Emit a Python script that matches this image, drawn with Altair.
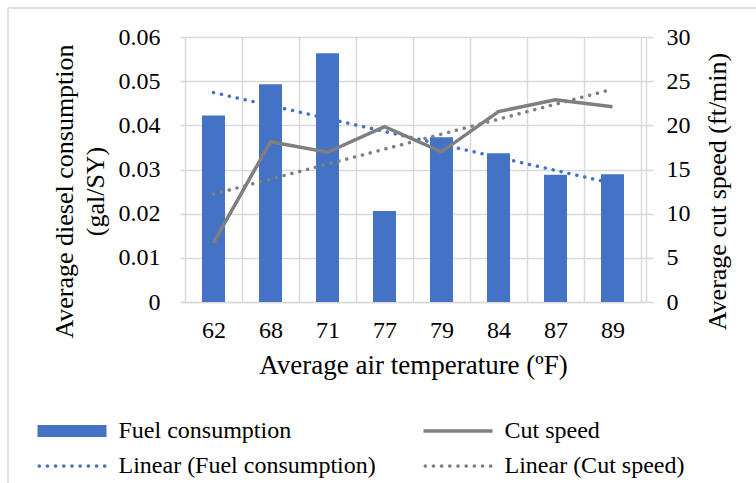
import altair as alt
import pandas as pd

# Chart values
temps = ["62", "68", "71", "77", "79", "84", "87", "89"]
fuel = [0.0422, 0.0493, 0.0563, 0.0206, 0.0373, 0.0337, 0.0288, 0.0289]
speed = [6.7, 18.15, 16.95, 19.85, 17.0, 21.55, 22.9, 22.1]
fuel_ticks = [0, 0.01, 0.02, 0.03, 0.04, 0.05, 0.06]
speed_ticks = [0, 5, 10, 15, 20, 25, 30]
# legend entries, listed column by column
series = ["Fuel consumption", "Linear (Fuel consumption)",
          "Cut speed", "Linear (Cut speed)"]

BLUE = "#4472C4"
GRAY = "#7F7F7F"
GRID = "#D9D9D9"
FONT = "Liberation Serif"
FS = 24
TITLE_FS = 26

n = len(temps)
df = pd.DataFrame({"idx": list(range(1, n + 1)), "temp": temps,
                   "fuel": fuel, "speed": speed})
positions = list(range(1, n + 1))
boundaries = [i + 0.5 for i in range(n + 1)]

xscale = alt.Scale(domain=[0.5, n + 0.5], nice=False, zero=False)
label_lookup = "[" + ",".join("'%s'" % t for t in temps) + "][datum.value - 1]"

# bottom axis: category labels
x_cat = alt.X("idx:Q", scale=xscale, axis=alt.Axis(
    values=positions, labelExpr=label_lookup, grid=False, ticks=False,
    domain=True, domainColor=GRID, domainWidth=1.5, labelPadding=16,
    title="Average air temperature (ºF)", titleFontSize=27, titlePadding=10))
# vertical gridlines between the categories
x_grid = alt.X("idx:Q", scale=xscale, axis=alt.Axis(
    orient="top", values=boundaries, grid=True, gridColor=GRID, gridWidth=1.5,
    labels=False, ticks=False, domain=False, title=None))

y_fuel = alt.Y("fuel:Q", scale=alt.Scale(domain=[0, 0.06], nice=False),
               axis=alt.Axis(values=fuel_ticks,
                             labelExpr="datum.value == 0 ? '0' : format(datum.value, '.2f')",
                             grid=True, gridColor=GRID, gridWidth=1.5,
                             ticks=False, domain=False, labelPadding=20,
                             title=["Average diesel consumption", "(gal/SY)"],
                             titleFontSize=TITLE_FS, titleLineHeight=31,
                             titleY=154, titlePadding=10))
y_speed = alt.Y("speed:Q", scale=alt.Scale(domain=[0, 30], nice=False),
                axis=alt.Axis(orient="right", values=speed_ticks, grid=False,
                              ticks=True, tickSize=7, tickColor=GRID, tickWidth=1.5,
                              domain=True, domainColor=GRID, domainWidth=1.5,
                              labelPadding=13,
                              title="Average cut speed (ft/min)", titleFontSize=TITLE_FS,
                              titleAngle=270, titleY=154, titlePadding=40))

base = alt.Chart(df)

bars = base.mark_bar(color=BLUE, size=23).encode(x=x_cat, y=y_fuel)
fuel_trend = base.transform_regression("idx", "fuel").mark_line(
    color=BLUE, strokeWidth=3.5, strokeDash=[0.1, 8], strokeCap="round"
).encode(x=x_cat, y=y_fuel)

speed_line = base.mark_line(color=GRAY, strokeWidth=3.5).encode(x=x_grid, y=y_speed)
speed_trend = base.transform_regression("idx", "speed").mark_line(
    color=GRAY, strokeWidth=3.5, strokeDash=[0.1, 8], strokeCap="round"
).encode(x=x_grid, y=y_speed)

left = alt.layer(bars, fuel_trend)
right = alt.layer(speed_line, speed_trend)

# legend swatches: wide bar, solid line, dotted lines
R = 10.0
HALF = 3.45


def rect_path(h_px):
    h = h_px / 2 / R
    return "M%.3f,%.3fH%.3fV%.3fH%.3fZ" % (-HALF, -h, HALF, h, -HALF)


def dots_path(count, rad_px):
    r = rad_px / R
    step = (2 * (HALF - r)) / (count - 1)
    parts = []
    for k in range(count):
        cx = -HALF + r + k * step
        parts.append("M%.3f,0a%.3f,%.3f 0 1,0 %.3f,0a%.3f,%.3f 0 1,0 %.3f,0Z"
                     % (cx - r, r, r, 2 * r, r, r, -2 * r))
    return "".join(parts)


shapes = [rect_path(12), dots_path(9, 1.8), rect_path(3.5), dots_path(9, 1.8)]
legend = alt.Legend(title=None, orient="none", legendX=-120, legendY=382,
                    columns=2, symbolSize=R * R * 4, symbolStrokeWidth=0,
                    symbolOpacity=1,
                    labelFont=FONT, labelFontSize=FS, labelColor="black",
                    labelOffset=34.5, labelLimit=0, columnPadding=47,
                    rowPadding=11, padding=0)
# legend key layer; its own points sit off the canvas
key = alt.Chart(pd.DataFrame({"series": series})).mark_point(
    filled=True
).encode(
    x=alt.value(-3000), y=alt.value(-3000),
    color=alt.Color("series:N", scale=alt.Scale(domain=series, range=[BLUE, BLUE, GRAY, GRAY]),
                    legend=legend),
    shape=alt.Shape("series:N", scale=alt.Scale(domain=series, range=shapes),
                    legend=legend),
)

# chart-area frame (top and left edges)
frame_df = pd.DataFrame({"k": [0]})
frame_top = alt.Chart(frame_df).mark_rule(color=GRID, strokeWidth=1.5).encode(
    x=alt.value(-172), x2=alt.value(600), y=alt.value(-29))
frame_left = alt.Chart(frame_df).mark_rule(color=GRID, strokeWidth=1.5).encode(
    x=alt.value(-172), y=alt.value(-29), y2=alt.value(460))

chart = alt.layer(left, right, key, frame_top, frame_left).resolve_scale(
    y="independent"
).resolve_axis(
    x="independent"
).properties(
    width=466, height=265,
    padding={"left": 180, "top": 37, "right": 110, "bottom": 181},
    autosize=alt.AutoSizeParams(type="none"),
).configure_axis(
    labelFont=FONT, titleFont=FONT, labelFontSize=FS, titleFontSize=FS,
    labelColor="black", titleColor="black", titleFontWeight="normal",
).configure_view(stroke=None)

chart.save("out.html", embed_options={"renderer": "svg", "actions": False})
